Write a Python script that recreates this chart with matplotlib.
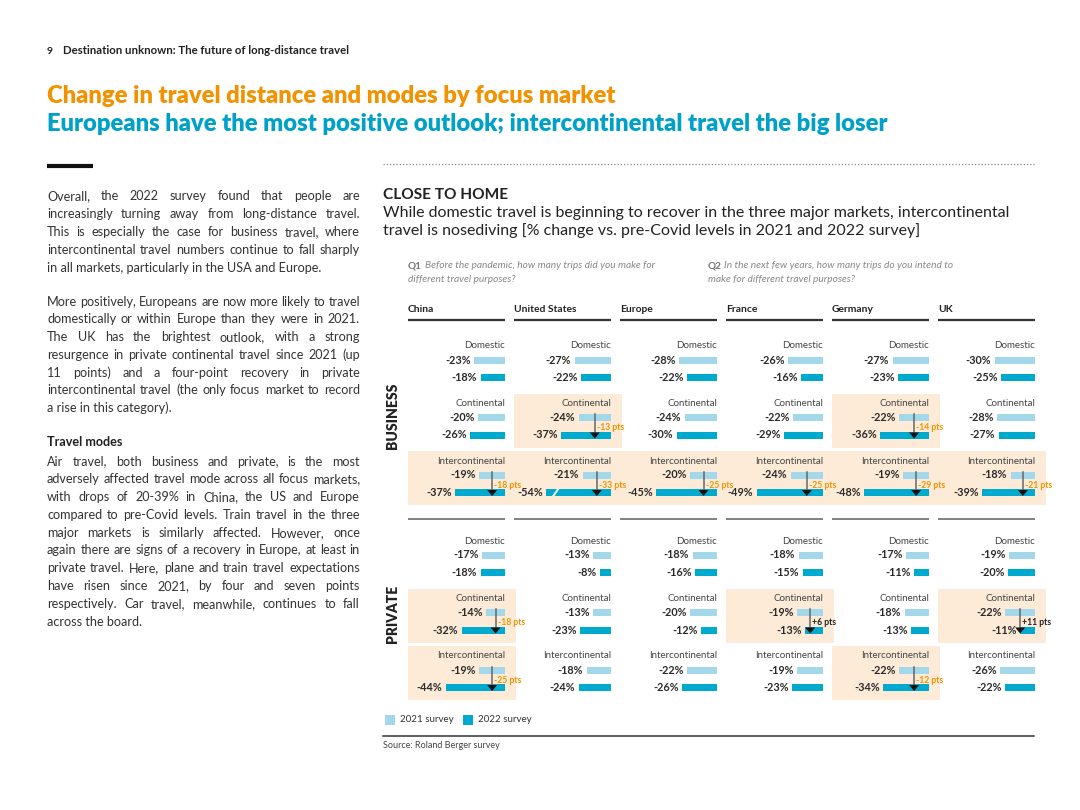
import matplotlib
matplotlib.use('Agg')
import matplotlib.pyplot as plt
from matplotlib.patches import Rectangle, Polygon

plt.rcParams['font.family'] = ['Lato', 'DejaVu Sans']

# ---------------- data ----------------
markets = ['China', 'United States', 'Europe', 'France', 'Germany', 'UK']
modes = ['Domestic', 'Continental', 'Intercontinental']

# rows = modes, columns = markets ; % change vs pre-Covid
business_2021 = [[-23, -27, -28, -26, -27, -30],
                 [-20, -24, -24, -22, -22, -28],
                 [-19, -21, -20, -24, -19, -18]]
business_2022 = [[-18, -22, -22, -16, -23, -25],
                 [-26, -37, -30, -29, -36, -27],
                 [-37, -54, -45, -49, -48, -39]]
private_2021 = [[-17, -13, -18, -18, -17, -19],
                [-14, -13, -20, -19, -18, -22],
                [-19, -18, -22, -19, -22, -26]]
private_2022 = [[-18, -8, -16, -15, -11, -20],
                [-32, -23, -12, -13, -13, -11],
                [-44, -24, -26, -23, -34, -22]]
business_highlight = [[0, 0, 0, 0, 0, 0],
                      [0, 1, 0, 0, 1, 0],
                      [1, 1, 1, 1, 1, 1]]
private_highlight = [[0, 0, 0, 0, 0, 0],
                     [1, 0, 0, 1, 0, 1],
                     [1, 0, 0, 0, 1, 0]]
section_names = ['BUSINESS', 'PRIVATE']
legend_labels = ['2021 survey', '2022 survey']

# ---------------- style ----------------
C21 = '#A3D8EA'
C22 = '#00A9CE'
BOX = '#FDEBD7'
ORANGE = '#F39200'
BLUE = '#00A1C8'
DARK = '#2a2a2a'

W, H = 1080, 810
fig = plt.figure(figsize=(10.8, 8.1), dpi=100)
bg = fig.add_axes([0, 0, 1, 1])
bg.set_xlim(0, W)
bg.set_ylim(H, 0)
bg.axis('off')
R = fig.canvas.get_renderer()


def tw(t):
    return t.get_window_extent(renderer=R).width


def fit(x, y, s, width, size=10, **kw):
    t = bg.text(x, y, s, fontsize=size, **kw)
    t.set_fontsize(size * width / tw(t))
    return t


def justify(x, y, line, width, size, last=False, **kw):
    words = line.split(' ')
    if last or len(words) == 1:
        bg.text(x, y, line, fontsize=size, va='baseline', **kw)
        return
    ts = [bg.text(0, y, w_, fontsize=size, va='baseline', **kw) for w_ in words]
    ws = [tw(t) for t in ts]
    gap = (width - sum(ws)) / (len(words) - 1)
    cx = x
    for t, w_ in zip(ts, ws):
        t.set_x(cx)
        cx += w_ + gap


# ---------------- header ----------------
bg.text(47, 51, '9', fontsize=7.5, weight='bold', color='#222', va='center')
fit(63, 51, 'Destination unknown: The future of long-distance travel', 286,
    weight='bold', color='#222', va='center')
fit(47, 96, 'Change in travel distance and modes by focus market', 571,
    weight='heavy', color=ORANGE, va='center')
fit(47, 124, 'Europeans have the most positive outlook; intercontinental travel the big loser', 843,
    weight='heavy', color=BLUE, va='center')
bg.plot([47, 93], [166, 166], color='#111', lw=3, solid_capstyle='butt')
bg.plot([383, 1034], [164, 164], color='#888', lw=0.9, linestyle=(0, (1, 1.6)))

# ---------------- left text ----------------
para1 = ['Overall, the 2022 survey found that people are',
         'increasingly turning away from long-distance travel.',
         'This is especially the case for business travel, where',
         'intercontinental travel numbers continue to fall sharply',
         'in all markets, particularly in the USA and Europe.']
para2 = ['More positively, Europeans are now more likely to travel',
         'domestically or within Europe than they were in 2021.',
         'The UK has the brightest outlook, with a strong',
         'resurgence in private continental travel since 2021 (up',
         '11 points) and a four-point recovery in private',
         'intercontinental travel (the only focus market to record',
         'a rise in this category).']
para3 = ['Air travel, both business and private, is the most',
         'adversely affected travel mode across all focus markets,',
         'with drops of 20-39% in China, the US and Europe',
         'compared to pre-Covid levels. Train travel in the three',
         'major markets is similarly affected. However, once',
         'again there are signs of a recovery in Europe, at least in',
         'private travel. Here, plane and train travel expectations',
         'have risen since 2021, by four and seven points',
         'respectively. Car travel, meanwhile, continues to fall',
         'across the board.']

probe = bg.text(0, 0, 'intercontinental travel numbers continue to fall sharply', fontsize=10)
BODY = 10 * 306 / tw(probe)
probe.remove()
LH = 17.8
for para, y0 in [(para1, 196), (para2, 301), (para3, 461)]:
    for k, line in enumerate(para):
        justify(47, y0 + k * LH + 4.5, line, 313, BODY, last=(k == len(para) - 1), color='#333')
bg.text(47, 442 + 4.5, 'Travel modes', fontsize=BODY, weight='bold', color='#222', va='baseline')

# ---------------- right header text ----------------
fit(383, 195, 'CLOSE TO HOME', 124, weight='bold', color='#222', va='center')
t = fit(383, 213, 'While domestic travel is beginning to recover in the three major markets, intercontinental',
        629, color='#222', va='center')
bg.text(383, 231, 'travel is nosediving [% change vs. pre-Covid levels in 2021 and 2022 survey]',
        fontsize=t.get_fontsize(), color='#222', va='center')

qt = fit(425, 266, 'Before the pandemic, how many trips did you make for', 229,
         style='italic', color='#888', va='center')
QS = qt.get_fontsize()
bg.text(408, 266, 'Q1', fontsize=QS, weight='bold', color='#777', va='center')
bg.text(408, 280, 'different travel purposes?', fontsize=QS, style='italic', color='#888', va='center')
bg.text(708, 266, 'Q2', fontsize=QS, weight='bold', color='#777', va='center')
bg.text(724, 266, 'In the next few years, how many trips do you intend to', fontsize=QS,
        style='italic', color='#888', va='center')
bg.text(708, 280, 'make for different travel purposes?', fontsize=QS, style='italic',
        color='#888', va='center')

# ---------------- chart grid ----------------
S = 1.35          # px per percentage point
LIMIT = -50       # values beyond this are drawn as broken bars
BROKEN_PX = 65    # drawn length of a broken bar
col_left = [408 + 106 * i for i in range(6)]
col_w = 97
PAD = 11
Y0, Y1 = 330, 708
ROW = 57.5
sections = [(346, business_2021, business_2022, business_highlight),
            (541, private_2021, private_2022, private_highlight)]

# highlight boxes (background layer)
for i in range(6):
    for top, d21, d22, hl in sections:
        for j in range(3):
            if hl[j][i]:
                ly = top + j * ROW
                bg.add_patch(Rectangle((col_left[i], ly - 10), col_w + PAD, 54,
                                       facecolor=BOX, edgecolor='none', zorder=0))

for i, m in enumerate(markets):
    cl = col_left[i]
    bg.text(cl, 310, m, fontsize=7.4, weight='bold', color='#222', va='center')
    bg.plot([cl, cl + col_w], [320, 320], color='#333', lw=1.6, solid_capstyle='butt')
    bg.plot([cl, cl + col_w], [519, 519], color='#777', lw=1.3, solid_capstyle='butt')

    ax = fig.add_axes([cl / W, 1 - Y1 / H, (col_w + PAD) / W, (Y1 - Y0) / H])
    ax.set_xlim(-col_w / S, PAD / S)
    ax.set_ylim(Y1, Y0)
    ax.axis('off')
    for top, d21, d22, hl in sections:
        for j, mode in enumerate(modes):
            ly = top + j * ROW
            y21, y22 = ly + 14, ly + 31.5
            v21, v22 = d21[j][i], d22[j][i]
            ax.text(0, ly, mode, ha='right', va='center', fontsize=7.0, color='#444')
            for v, yy, c in [(v21, y21, C21), (v22, y22, C22)]:
                b = v if v >= LIMIT else -BROKEN_PX / S
                ax.barh(yy, b, height=7, color=c, zorder=2)
                ax.text(b - 3.5 / S, yy, f'{v}%', ha='right', va='center', fontsize=7.8,
                        weight='bold', color=DARK)
                if v < LIMIT:
                    bx = b + 6 / S
                    ax.add_patch(Polygon([(bx, yy + 3.6), (bx + 2.5 / S, yy + 3.6),
                                          (bx + 7.5 / S, yy - 3.6), (bx + 5 / S, yy - 3.6)],
                                         closed=True, facecolor='white', edgecolor='none', zorder=3))
            if hl[j][i]:
                axx = v21 / 2
                d = v22 - v21
                ax.plot([axx, axx], [y21 - 3.5, y22 - 1], color='#666', lw=1.1, zorder=4)
                ax.add_patch(Polygon([(axx - 5 / S, y22 - 2.5), (axx + 5 / S, y22 - 2.5),
                                      (axx, y22 + 3.5)], closed=True, facecolor='#111',
                                     edgecolor='none', zorder=5))
                ax.text(axx + 2 / S, (y21 + y22) / 2 + 1.5, f'{d:+d} pts', ha='left', va='center',
                        fontsize=6.2, weight='bold', color=ORANGE if d < 0 else '#222', zorder=6)

# section labels
for name, yc, length in [(section_names[0], 416, 67), (section_names[1], 614, 58)]:
    st = fit(393, yc, name, length, weight='heavy', color='#222', ha='center', va='center')
    st.set_rotation(90)

# legend
for lx, c, lab in [(385, C21, legend_labels[0]), (463, C22, legend_labels[1])]:
    bg.add_patch(Rectangle((lx, 715), 10, 10, facecolor=c, edgecolor='none'))
    bg.text(lx + 15, 720, lab, fontsize=7, color='#333', va='center')
bg.plot([383, 1034], [736, 736], color='#333', lw=1.1)
bg.text(383, 745, 'Source: Roland Berger survey', fontsize=6.5, color='#444', va='center')

fig.savefig('out.png', dpi=100)
